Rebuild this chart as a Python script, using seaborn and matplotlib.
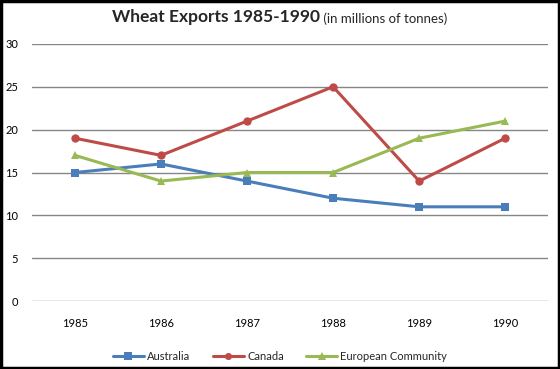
import matplotlib
matplotlib.use("Agg")
import matplotlib.pyplot as plt
import seaborn as sns
import pandas as pd
from matplotlib.patches import Rectangle

years = ["1985", "1986", "1987", "1988", "1989", "1990"]
australia = [15, 16, 14, 12, 11, 11]
canada = [19, 17, 21, 25, 14, 19]
european = [17, 14, 15, 15, 19, 21]
series_names = ["Australia", "Canada", "European Community"]
colors = ["#4A7EBB", "#BE4B48", "#98B954"]
markers = ["s", "o", "^"]

rows = []
for name, vals in zip(series_names, [australia, canada, european]):
    for i, (y, v) in enumerate(zip(years, vals)):
        rows.append({"idx": i, "year": y, "value": v, "series": name})
df = pd.DataFrame(rows)

sns.set_style("white")
plt.rcParams["font.family"] = ["Lato", "DejaVu Sans"]

fig = plt.figure(figsize=(5.6, 3.69), dpi=100)
ax = fig.add_axes([0.057, 0.184, 0.922, 0.697])

sns.lineplot(data=df, x="idx", y="value", hue="series", style="series",
             palette=colors, markers=markers, dashes=False, linewidth=2.2,
             markersize=6, markeredgewidth=0, ax=ax, legend=True)

ax.set_ylim(0, 30)
ax.set_xlim(-0.5, 5.5)
ax.set_yticks(range(0, 31, 5))
ax.set_xticks(range(len(years)))
ax.set_xticklabels(years)
ax.tick_params(axis="both", length=0, labelsize=8, colors="#000000")
ax.tick_params(axis="x", pad=12)
ax.tick_params(axis="y", pad=10)
ax.yaxis.grid(True, color="#868686", linewidth=1)
ax.xaxis.grid(False)
for s in ax.spines.values():
    s.set_visible(False)
ax.set_xlabel("")
ax.set_ylabel("")

leg = ax.legend(loc="center", bbox_to_anchor=(0.5, 0.035), bbox_transform=fig.transFigure,
                ncol=3, frameon=False, fontsize=8, handlelength=2.8, columnspacing=2.0,
                handletextpad=0.3, markerscale=0.85)

# Title in two parts
fig.canvas.draw()
r = fig.canvas.get_renderer()
t1 = fig.text(0, 0.955, "Wheat Exports 1985-1990", fontsize=12.5, fontweight="bold",
              ha="left", va="center")
t2 = fig.text(0, 0.950, " (in millions of tonnes)", fontsize=9.5, ha="left", va="center")
w1 = t1.get_window_extent(r).width / fig.bbox.width
w2 = t2.get_window_extent(r).width / fig.bbox.width
start = 0.5 - (w1 + w2) / 2
t1.set_x(start)
t2.set_x(start + w1)

fig.patches.append(Rectangle((0.002, 0.003), 0.996, 0.994, transform=fig.transFigure,
                             fill=False, edgecolor="black", linewidth=2.5))

fig.savefig("out.png", dpi=100)
